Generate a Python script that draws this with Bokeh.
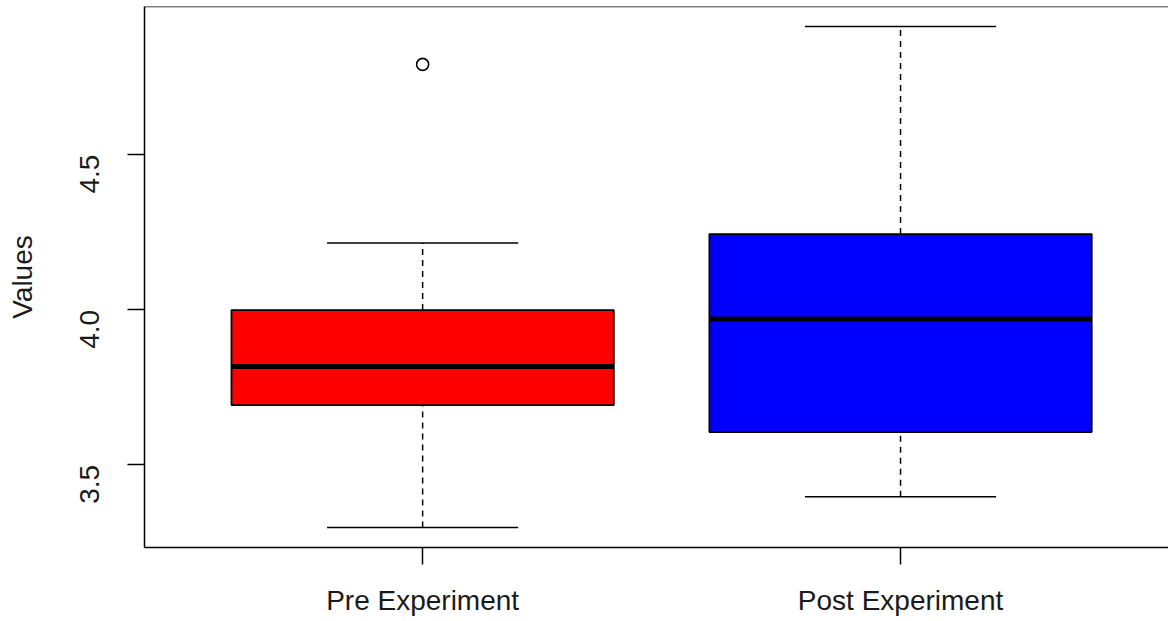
import math
from bokeh.plotting import figure
from bokeh.models import ColumnDataSource, FixedTicker, Span, Range1d
from bokeh.embed import file_html
from bokeh.resources import INLINE

# ---- data ----
categories = ["Pre Experiment", "Post Experiment"]
positions = [1, 2]
lower_whisker = [3.298, 3.397]
q1 = [3.693, 3.606]
median = [3.817, 3.970]
q3 = [3.999, 4.244]
upper_whisker = [4.215, 4.913]
fill_colors = ["#FF0000", "#0000FF"]
outlier_pos = [1]
outlier_vals = [4.791]
y_ticks = [3.5, 4.0, 4.5]
y_tick_labels = ["3.5", "4.0", "4.5"]

box_width = 0.8
cap_width = 0.4

FONT = "Liberation Sans"

p = figure(width=1168, height=621, output_backend="svg", toolbar_location=None,
           x_range=Range1d(0.418, 2.5607), y_range=Range1d(3.2338, 4.9776),
           min_border_left=144, min_border_right=0, min_border_top=6, min_border_bottom=74)
p.outline_line_color = None
p.grid.visible = False
p.background_fill_color = "white"
p.border_fill_color = "white"

src = ColumnDataSource(dict(
    x=positions, lw=lower_whisker, q1=q1, med=median, q3=q3, uw=upper_whisker,
    color=fill_colors,
    bl=[x - box_width / 2 for x in positions], br=[x + box_width / 2 for x in positions],
    cl=[x - cap_width / 2 for x in positions], cr=[x + cap_width / 2 for x in positions],
))

# whiskers (dashed)
p.segment(x0="x", y0="q3", x1="x", y1="uw", source=src, line_color="black",
          line_width=1.5, line_dash="6 5")
p.segment(x0="x", y0="lw", x1="x", y1="q1", source=src, line_color="black",
          line_width=1.5, line_dash="6 5")
# caps
p.segment(x0="cl", y0="uw", x1="cr", y1="uw", source=src, line_color="black", line_width=1.5)
p.segment(x0="cl", y0="lw", x1="cr", y1="lw", source=src, line_color="black", line_width=1.5)
# boxes
p.vbar(x="x", width=box_width, top="q3", bottom="q1", source=src, fill_color="color",
       line_color="black", line_width=1.8)
# medians
p.segment(x0="bl", y0="med", x1="br", y1="med", source=src, line_color="black",
          line_width=5)
# outliers
p.scatter(x=outlier_pos, y=outlier_vals, marker="circle", size=12, fill_color=None,
          line_color="black", line_width=1.6)

# top frame line
p.add_layout(Span(location=4.9776, dimension="width", line_color="black", line_width=1.5))

# axes
xa = p.xaxis[0]
xa.ticker = FixedTicker(ticks=positions)
xa.major_label_overrides = {pos: c for pos, c in zip(positions, categories)}
ya = p.yaxis[0]
ya.ticker = FixedTicker(ticks=y_ticks)
ya.major_label_overrides = {t: s for t, s in zip(y_ticks, y_tick_labels)}
ya.major_label_orientation = math.pi / 2
ya.axis_label = "Values"

for ax in (xa, ya):
    ax.minor_tick_line_color = None
    ax.major_tick_in = 0
    ax.major_tick_out = 17
    ax.major_tick_line_color = "black"
    ax.major_tick_line_width = 1.5
    ax.axis_line_color = "black"
    ax.axis_line_width = 1.5
    ax.major_label_text_font = FONT
    ax.major_label_text_font_size = "28px"
    ax.major_label_text_color = "#1a1a1a"
    ax.axis_label_text_font = FONT
    ax.axis_label_text_font_size = "28px"
    ax.axis_label_text_font_style = "normal"
    ax.axis_label_text_color = "#1a1a1a"

xa.major_label_standoff = 20
ya.major_label_standoff = 38
ya.axis_label_standoff = 30

open("out.html", "w").write(file_html(p, INLINE))
